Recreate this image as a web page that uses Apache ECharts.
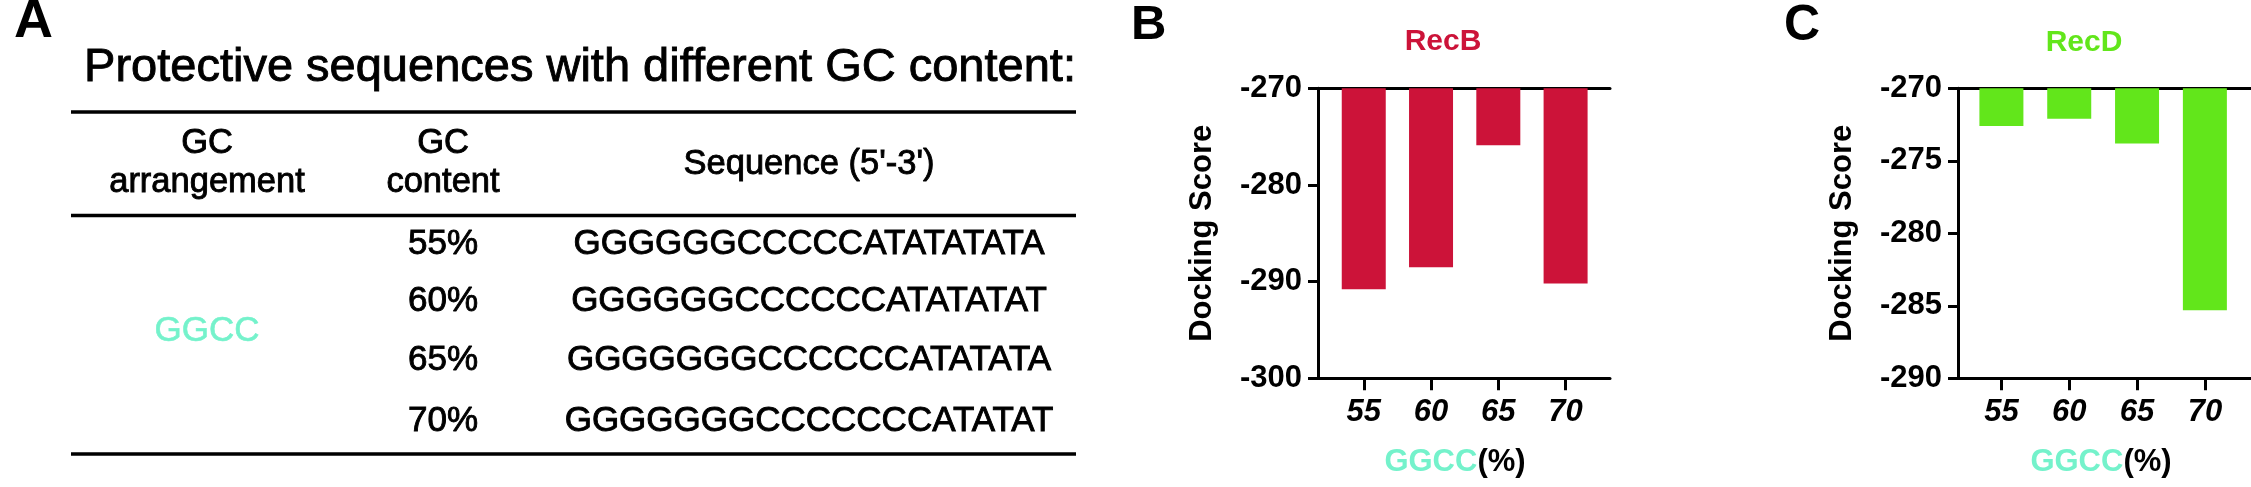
<!DOCTYPE html>
<html>
<head>
<meta charset="utf-8">
<script src="https://cdn.jsdelivr.net/npm/echarts@6/dist/echarts.min.js"></script>
<style>
html,body{margin:0;padding:0;background:#fff;}
#c{width:2251px;height:487px;}
</style>
</head>
<body>
<div id="c"></div>
<script>
// ---------------- data ----------------
const gcContent = [55, 60, 65, 70];
const recBScores = [-290.8, -288.5, -275.9, -290.2];
const recDScores = [-272.6, -272.1, -273.8, -285.3];
const gcPercentLabels = ['55%', '60%', '65%', '70%'];
const sequences = [
  'GGGGGGCCCCCATATATATA',
  'GGGGGGCCCCCCATATATAT',
  'GGGGGGGCCCCCCATATATA',
  'GGGGGGGCCCCCCCATATAT'
];
const tableTitle = 'Protective sequences with different GC content:';
const headerArrangement = ['GC', 'arrangement'];
const headerContent = ['GC', 'content'];
const headerSequence = "Sequence (5'-3')";
const arrangementName = 'GGCC';
const panelLetters = ['A', 'B', 'C'];
const chartTitles = ['RecB', 'RecD'];
const yAxisName = 'Docking Score';

// ---------------- style / layout ----------------
const FONT = '"Liberation Sans", Arial, Helvetica, sans-serif';
const RED = '#CC1339', GREEN = '#62E61B', AQUA = '#74F2CB', BLACK = '#000';

const L = {
  tableX0: 71, tableX1: 1076, lineY: [112, 215.5, 454], lineW: 3.5,
  titleX: 580, titleY: 70.5, titleFs: 47,
  colArr: 207, colGC: 443, colSeq: 809,
  headY1: 145, headY2: 184, headSeqY: 166, headFs: 34.5,
  rowY: [246, 303, 362, 423], rowFs: 35, arrY: 333,
  letters: [[14, 25, 54], [1131, 27.5, 49], [1784, 28.5, 50]],
  titles: [[1443, 43.5], [2084, 44]]
};

function txt(text, x, y, fs, opts) {
  opts = opts || {};
  const align = opts.align || 'center';
  const color = opts.color || BLACK;
  const style = {
    text: text, fontSize: fs, fontFamily: FONT,
    fontWeight: opts.weight || 'normal',
    fill: color,
    align: align, textAlign: align,
    verticalAlign: 'middle', textVerticalAlign: 'middle'
  };
  if (opts.heavy) { style.stroke = color; style.lineWidth = opts.heavy; }
  return { type: 'text', silent: true, x: x, y: y - fs * 0.045, style: style };
}

const graphics = [];
panelLetters.forEach((p, i) => {
  const [x, y, fs] = L.letters[i];
  graphics.push(txt(p, x, y, fs, {align: 'left', weight: 'bold'}));
});
chartTitles.forEach((t, i) => {
  graphics.push(txt(t, L.titles[i][0], L.titles[i][1], 30, {weight: 'bold', color: i === 0 ? RED : GREEN}));
});
const H = 0.9;
graphics.push(txt(tableTitle, L.titleX, L.titleY, L.titleFs, {heavy: H}));
L.lineY.forEach(y => graphics.push({
  type: 'line', silent: true,
  shape: {x1: L.tableX0, y1: y, x2: L.tableX1, y2: y},
  style: {stroke: BLACK, lineWidth: L.lineW}
}));
graphics.push(txt(headerArrangement[0], L.colArr, L.headY1, L.headFs, {heavy: H}));
graphics.push(txt(headerArrangement[1], L.colArr, L.headY2, L.headFs, {heavy: H}));
graphics.push(txt(headerContent[0], L.colGC, L.headY1, L.headFs, {heavy: H}));
graphics.push(txt(headerContent[1], L.colGC, L.headY2, L.headFs, {heavy: H}));
graphics.push(txt(headerSequence, L.colSeq, L.headSeqY, L.headFs, {heavy: H}));
gcPercentLabels.forEach((g, i) => {
  graphics.push(txt(g, L.colGC, L.rowY[i], L.rowFs, {heavy: H}));
  graphics.push(txt(sequences[i], L.colSeq, L.rowY[i], L.rowFs, {heavy: H}));
});
graphics.push(txt(arrangementName, L.colArr, L.arrY, L.rowFs, {color: AQUA, heavy: 0.6}));

// ---------------- axes ----------------
const axisLineStyle = {color: BLACK, width: 3};
function bottomX(gridIndex, min, max, namePad) {
  return {
    gridIndex, type: 'value', min, max, position: 'bottom',
    axisLine: {show: true, onZero: false, lineStyle: axisLineStyle},
    axisTick: {show: true, length: 12, lineStyle: {color: BLACK, width: 3}, customValues: gcContent},
    axisLabel: {
      customValues: gcContent, color: BLACK, fontSize: 31, fontWeight: 'bold',
      fontStyle: 'italic', fontFamily: FONT, margin: 19
    },
    splitLine: {show: false},
    name: '{g|GGCC}{p|(%)}', nameLocation: 'middle', nameGap: 69,
    nameTextStyle: {
      padding: namePad,
      rich: {
        g: {color: AQUA, fontSize: 31, fontWeight: 'bold', fontFamily: FONT},
        p: {color: BLACK, fontSize: 31, fontWeight: 'bold', fontFamily: FONT}
      }
    }
  };
}
function topX(gridIndex, min, max) {
  return {
    gridIndex, type: 'value', min, max, position: 'top',
    axisLine: {show: true, onZero: false, lineStyle: axisLineStyle},
    axisTick: {show: false}, axisLabel: {show: false}, splitLine: {show: false}
  };
}
function leftY(gridIndex, min, max, interval) {
  return {
    gridIndex, type: 'value', min, max, interval,
    axisLine: {show: true, onZero: false, lineStyle: axisLineStyle},
    axisTick: {show: true, length: 10, lineStyle: {color: BLACK, width: 3}},
    axisLabel: {color: BLACK, fontSize: 31, fontWeight: 'bold', fontFamily: FONT, margin: 16},
    splitLine: {show: false},
    name: yAxisName, nameLocation: 'middle', nameGap: 100,
    nameTextStyle: {color: BLACK, fontSize: 31, fontWeight: 'bold', fontFamily: FONT}
  };
}

const option = {
  backgroundColor: '#fff',
  animation: false,
  textStyle: {fontFamily: FONT},
  graphic: {elements: graphics},
  grid: [
    {left: 1318, top: 88.3, width: 292, height: 290, containLabel: false},
    {left: 1958, top: 88.3, width: 293, height: 290, containLabel: false}
  ],
  xAxis: [
    bottomX(0, 51.6, 73.3, [0, 18, 0, 0]),
    topX(0, 51.6, 73.3),
    bottomX(1, 51.8, 73.4, [0, 7, 0, 0]),
    topX(1, 51.8, 73.4)
  ],
  yAxis: [
    leftY(0, -300, -270, 10),
    leftY(1, -290, -270, 5)
  ],
  series: [
    {
      type: 'bar', xAxisIndex: 0, yAxisIndex: 0, barWidth: 44, clip: true,
      itemStyle: {color: RED},
      data: gcContent.map((g, i) => [g, recBScores[i]])
    },
    {
      type: 'bar', xAxisIndex: 2, yAxisIndex: 1, barWidth: 44, clip: true,
      itemStyle: {color: GREEN},
      data: gcContent.map((g, i) => [g, recDScores[i]])
    }
  ]
};
const chart = echarts.init(document.getElementById('c'));
chart.setOption(option);
</script>
</body>
</html>
